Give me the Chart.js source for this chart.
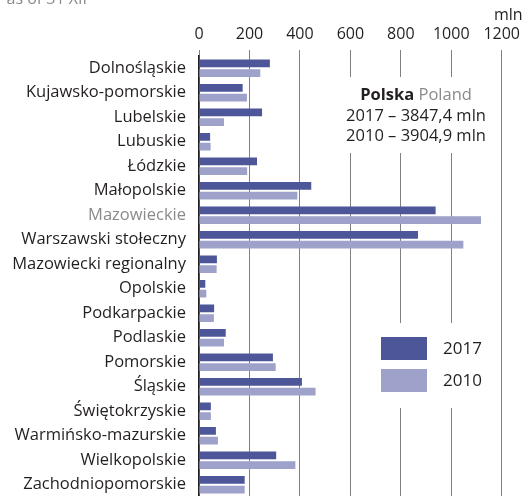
<!DOCTYPE html>
<html>
<head>
<meta charset="utf-8">
<script src="https://cdn.jsdelivr.net/npm/chart.js@4.4.0/dist/chart.umd.min.js"></script>
<style>
  html, body { margin: 0; padding: 0; background: #fff; overflow: hidden; }
</style>
</head>
<body>
<canvas id="regions-chart" width="526" height="497"></canvas>
<script>
// Voivodeships (Mazowieckie split into its two NUTS-2 parts)
const regions = [
    'Dolnośląskie', 'Kujawsko-pomorskie', 'Lubelskie', 'Lubuskie', 'Łódzkie',
    'Małopolskie', 'Mazowieckie', 'Warszawski stołeczny', 'Mazowiecki regionalny',
    'Opolskie', 'Podkarpackie', 'Podlaskie', 'Pomorskie', 'Śląskie',
    'Świętokrzyskie', 'Warmińsko-mazurskie', 'Wielkopolskie', 'Zachodniopomorskie'
];

// mln
const values2017 = [281, 173, 250, 44, 230, 445, 938, 868, 71, 25, 60, 106, 293, 408, 47, 67, 306, 181];
const values2010 = [243, 190, 99, 46, 191, 390, 1118, 1048, 70, 29, 59, 99, 304, 462, 47, 75, 382, 181];

const xTicks = [0, 200, 400, 600, 800, 1000, 1200];
const seriesLabels = ['2017', '2010'];
const totalTitle = ['Polska', 'Poland'];
const totalLines = ['2017 – 3847,4 mln', '2010 – 3904,9 mln'];

const FONT = '"Open Sans", sans-serif';
const TEXT = '#231f20';
const GREY = '#8a8a8a';
const COLORS = ['#4c5698', '#9ea1ca'];

// white panels behind the totals box and the legend, then their text
const overlayPlugin = {
    id: 'overlay',
    beforeDatasetsDraw(chart) {
        const c = chart.ctx;
        c.save();
        c.fillStyle = '#fff';
        c.fillRect(335, 77, 162, 76);
        c.fillRect(362, 323, 135, 85);
        c.restore();
    },
    afterDraw(chart) {
        const c = chart.ctx;
        c.save();
        c.textBaseline = 'middle';

        // totals
        const size = 16.5;
        c.font = 'bold ' + size + 'px ' + FONT;
        const w1 = c.measureText(totalTitle[0] + ' ').width;
        c.font = size + 'px ' + FONT;
        const w2 = c.measureText(totalTitle[1]).width;
        let x = 416 - (w1 + w2) / 2;
        c.textAlign = 'left';
        c.font = 'bold ' + size + 'px ' + FONT;
        c.fillStyle = TEXT;
        c.fillText(totalTitle[0] + ' ', x, 95);
        c.font = size + 'px ' + FONT;
        c.fillStyle = GREY;
        c.fillText(totalTitle[1], x + w1, 95);
        c.fillStyle = TEXT;
        c.textAlign = 'center';
        c.fillText(totalLines[0], 416, 116);
        c.fillText(totalLines[1], 416, 136);

        // legend
        c.font = '17px ' + FONT;
        c.textAlign = 'left';
        chart.data.datasets.forEach((ds, i) => {
            const y = 337 + i * 32;
            c.fillStyle = ds.backgroundColor;
            c.fillRect(381, y, 46, 23);
            c.fillStyle = TEXT;
            c.fillText(ds.label, 443, y + 12);
        });

        // unit and the clipped heading line
        c.font = '16px ' + FONT;
        c.textBaseline = 'alphabetic';
        c.textAlign = 'left';
        c.fillStyle = TEXT;
        c.fillText('mln', 494, 20);
        c.fillStyle = GREY;
        c.textAlign = 'right';
        c.fillText('as of 31 XII', 87, 4);
        c.restore();
    }
};

const ctx = document.getElementById('regions-chart').getContext('2d');
new Chart(ctx, {
    type: 'bar',
    data: {
        labels: regions,
        datasets: [{
            label: seriesLabels[0],
            data: values2017,
            backgroundColor: COLORS[0],
            categoryPercentage: 0.8,
            barPercentage: 0.8
        }, {
            label: seriesLabels[1],
            data: values2010,
            backgroundColor: COLORS[1],
            categoryPercentage: 0.8,
            barPercentage: 0.8
        }]
    },
    options: {
        indexAxis: 'y',
        responsive: false,
        animation: false,
        layout: { padding: { left: 0, right: 21, top: 0, bottom: 0 } },
        plugins: {
            legend: { display: false },
            tooltip: { enabled: false }
        },
        scales: {
            x: {
                position: 'top',
                min: 0,
                max: 1200,
                afterFit: scale => { scale.height = 56; },
                afterBuildTicks: scale => { scale.ticks = xTicks.map(v => ({ value: v })); },
                grid: { color: '#808080', lineWidth: 1, tickLength: 6 },
                border: { display: false },
                ticks: {
                    color: TEXT,
                    padding: 6,
                    font: { family: FONT, size: 16 },
                    callback: v => String(v)
                }
            },
            y: {
                // fixed label column, and no extra room above/below for edge labels
                afterFit: scale => {
                    scale.width = 199;
                    scale.paddingTop = 0;
                    scale.paddingBottom = 0;
                },
                grid: { display: false, drawTicks: false, tickLength: 0 },
                border: { display: true, color: TEXT, width: 1.5 },
                ticks: {
                    padding: 13,
                    autoSkip: false,
                    color: c => c.index === 6 ? GREY : TEXT,
                    font: { family: FONT, size: 16.5 }
                }
            }
        }
    },
    plugins: [overlayPlugin]
});
</script>
</body>
</html>
